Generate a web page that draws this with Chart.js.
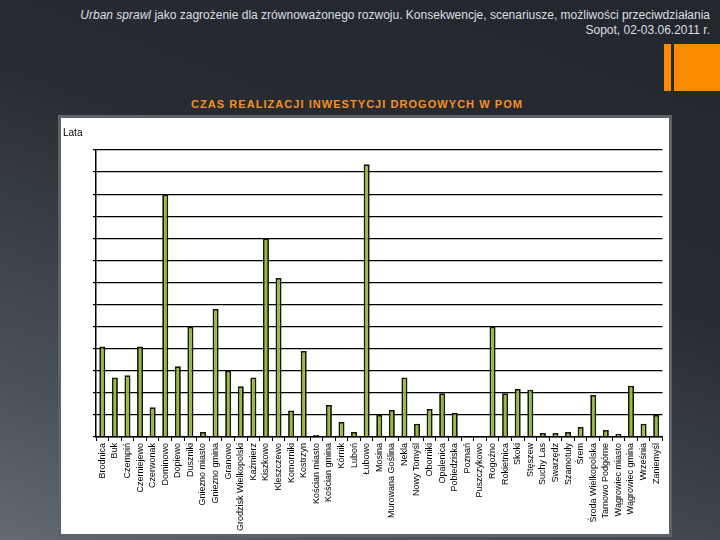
<!DOCTYPE html>
<html>
<head>
<meta charset="utf-8">
<script src="https://cdn.jsdelivr.net/npm/chart.js@4"></script>
<style>
  html, body { margin: 0; padding: 0; }
  body {
    width: 720px; height: 540px; overflow: hidden; position: relative;
    background: linear-gradient(200deg, #22272d 0%, #272c32 40%, #4a5259 80%, #636b72 100%);
    font-family: "Liberation Sans", Arial, sans-serif;
  }
  .head {
    position: absolute; right: 10px; top: 8px; text-align: right;
    color: #dcdfe2; font-size: 12px; line-height: 15px;
  }
  .bar-thin { position: absolute; left: 664px; top: 44px; width: 7px; height: 47px; background: #fd8b00; }
  .bar-wide { position: absolute; left: 674px; top: 44px; width: 46px; height: 47px; background: #fd8b00; }
  .title {
    position: absolute; left: 0; width: 720px; top: 98px; text-align: center;
    color: #f7901e; font-weight: bold; font-size: 11px; letter-spacing: 1.05px;
    box-sizing: border-box; padding-right: 6px;
  }
  .panel {
    position: absolute; left: 58px; top: 115px; width: 608px; height: 416px;
    border: 3px solid #5b6268; background: #fff;
  }
  canvas { display: block; }
</style>
</head>
<body>
<div class="head"><i>Urban sprawl</i> jako zagrożenie dla zrównoważonego rozwoju. Konsekwencje, scenariusze, możliwości przeciwdziałania<br>Sopot, 02-03.06.2011 r.</div>
<div class="bar-thin"></div>
<div class="bar-wide"></div>
<div class="title">CZAS REALIZACJI INWESTYCJI DROGOWYCH W POM</div>
<div class="panel"><canvas id="chart" width="608" height="416"></canvas></div>
<script>
// Gminy (categories)
const gminy = [
  'Brodnica', 'Buk', 'Czempiń', 'Czerniejewo', 'Czerwonak', 'Dominowo', 'Dopiewo', 'Duszniki',
  'Gniezno miasto', 'Gniezno gmina', 'Granowo', 'Grodzisk Wielkopolski', 'Kaźmierz', 'Kiszkowo',
  'Kleszczewo', 'Komorniki', 'Kostrzyn', 'Kościan miasto', 'Kościan gmina', 'Kórnik', 'Luboń',
  'Łubowo', 'Mosina', 'Murowana Goślina', 'Nekla', 'Nowy Tomyśl', 'Oborniki', 'Opalenica',
  'Pobiedziska', 'Poznań', 'Puszczykowo', 'Rogoźno', 'Rokietnica', 'Skoki', 'Stęszew',
  'Suchy Las', 'Swarzędz', 'Szamotuły', 'Śrem', 'Środa Wielkopolska', 'Tarnowo Podgórne',
  'Wągrowiec miasto', 'Wągrowiec gmina', 'Września', 'Zaniemyśl'
];

// Czas realizacji (lata)
const lata = [
  4.1, 2.7, 2.8, 4.1, 1.35, 11.0, 3.2, 5.0,
  0.23, 5.8, 3.0, 2.3, 2.7, 9.0,
  7.2, 1.2, 3.9, 0.09, 1.45, 0.68, 0.23,
  12.35, 1.0, 1.23, 2.7, 0.6, 1.27, 1.98,
  1.1, 0, 0.05, 5.0, 1.98, 2.18, 2.14,
  0.18, 0.18, 0.23, 0.45, 1.9, 0.32,
  0.14, 2.32, 0.6, 1.0
];

const yMax = 13;

// Function to draw the "Lata" axis caption
const lataLabel = {
  id: 'lataLabel',
  afterDraw(chart) {
    const ctx = chart.ctx;
    ctx.save();
    ctx.fillStyle = '#000';
    ctx.font = '10px "Liberation Sans", Arial, sans-serif';
    ctx.textBaseline = 'middle';
    ctx.fillText('Lata', 2, 15);
    ctx.restore();
  }
};

window.addEventListener('DOMContentLoaded', () => {
  const ctx = document.getElementById('chart').getContext('2d');
  new Chart(ctx, {
    type: 'bar',
    data: {
      labels: gminy,
      datasets: [{
        data: lata,
        backgroundColor: '#9aba3b',
        borderColor: '#121a06',
        borderWidth: 1.8,
        categoryPercentage: 1,
        barPercentage: 0.48
      }]
    },
    options: {
      responsive: false,
      animation: false,
      layout: { padding: { top: 32, right: 2, left: 0, bottom: 0 } },
      plugins: { legend: { display: false }, tooltip: { enabled: false } },
      scales: {
        x: {
          grid: { display: true, drawOnChartArea: false, drawTicks: true, tickLength: 4, color: '#000', lineWidth: 1 },
          border: { display: true, color: '#000', width: 1.5 },
          ticks: {
            autoSkip: false, maxRotation: 90, minRotation: 90, padding: 2, color: '#000',
            font: { family: '"Liberation Sans", Arial, sans-serif', size: 9 }
          },
          afterFit: s => { s.height = 97; }
        },
        y: {
          min: 0, max: yMax,
          grid: { color: '#000', lineWidth: 1.3, drawTicks: true, tickLength: 3 },
          border: { display: true, color: '#000', width: 1.5 },
          ticks: { display: false, stepSize: 1 },
          afterFit: s => { s.width = 35; }
        }
      }
    },
    plugins: [lataLabel]
  });
});
</script>
</body>
</html>
